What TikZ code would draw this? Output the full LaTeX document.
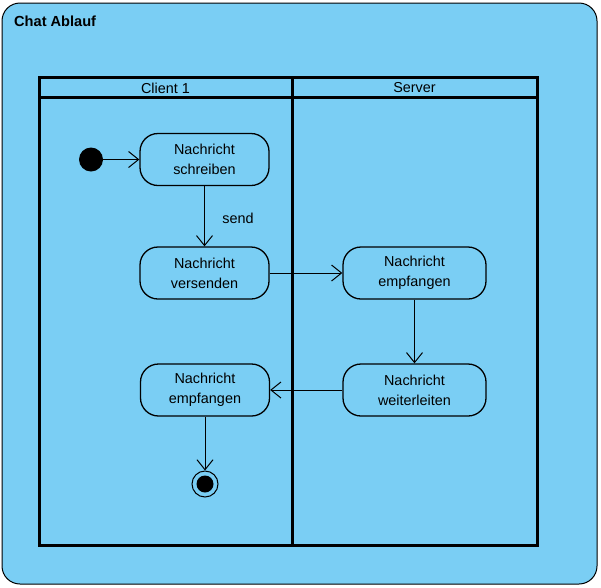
\documentclass[tikz,border=0pt]{standalone}
\usepackage{fontspec}
\setmainfont{Liberation Sans}
\usetikzlibrary{arrows.meta}
\definecolor{bgblue}{RGB}{122,206,244}
\tikzset{
  txt/.style={font=\fontsize{14.4}{20}\selectfont},
  act/.style={draw, line width=1.3pt, rounded corners=18pt, fill=bgblue, minimum width=129pt, minimum height=52pt, align=center, txt, inner sep=0pt},
  actw/.style={act, minimum width=143pt},
  flow/.style={line width=1pt, -{Straight Barb[length=10pt,width=16pt,line width=1pt]}},
  lane/.style={line width=3pt},
}
\begin{document}
\begin{tikzpicture}[x=1pt,y=-1pt]
\useasboundingbox (0,0) rectangle (601,587);
% outer frame
\draw[line width=1pt, fill=bgblue, rounded corners=18pt] (2,3) rectangle (597,584);
\node[anchor=west, inner sep=0pt, font=\fontsize{14.6}{16}\selectfont\bfseries] (title) at (14,21) {Chat Ablauf};
% swimlanes
\draw[lane] (39,77) rectangle (537,545);
\draw[lane] (39,97) -- (537,97);
\draw[lane] (292,77) -- (292,545);
\node[txt] (c1) at (165.5,88) {Client 1};
\node[txt] (srv) at (414.5,88) {Server};
% nodes
\node[circle, fill=black, minimum size=24pt, inner sep=0pt] (start) at (91,159.5) {};
\node[act] (schreiben) at (204.5,159.5) {Nachricht\\schreiben};
\node[act] (versenden) at (204.5,273) {Nachricht\\versenden};
\node[actw] (sempf) at (414.5,273) {Nachricht\\empfangen};
\node[actw] (weiter) at (414.5,390) {Nachricht\\weiterleiten};
\node[act] (cempf) at (205,390) {Nachricht\\empfangen};
\node[circle, draw, line width=1pt, minimum size=26pt, inner sep=0pt] (end) at (205,484) {};
\fill (end.center) circle (8.5pt);
% connectors
\draw[flow] (start) -- (schreiben);
\draw[flow] (schreiben) -- node[right, xshift=14pt, yshift=-2pt, txt] (sendlbl) {send} (versenden);
\draw[flow] (versenden) -- (sempf);
\draw[flow] (sempf) -- (weiter);
\draw[flow] (weiter) -- (cempf);
\draw[flow] (cempf) -- (end);
\end{tikzpicture}
\end{document}
